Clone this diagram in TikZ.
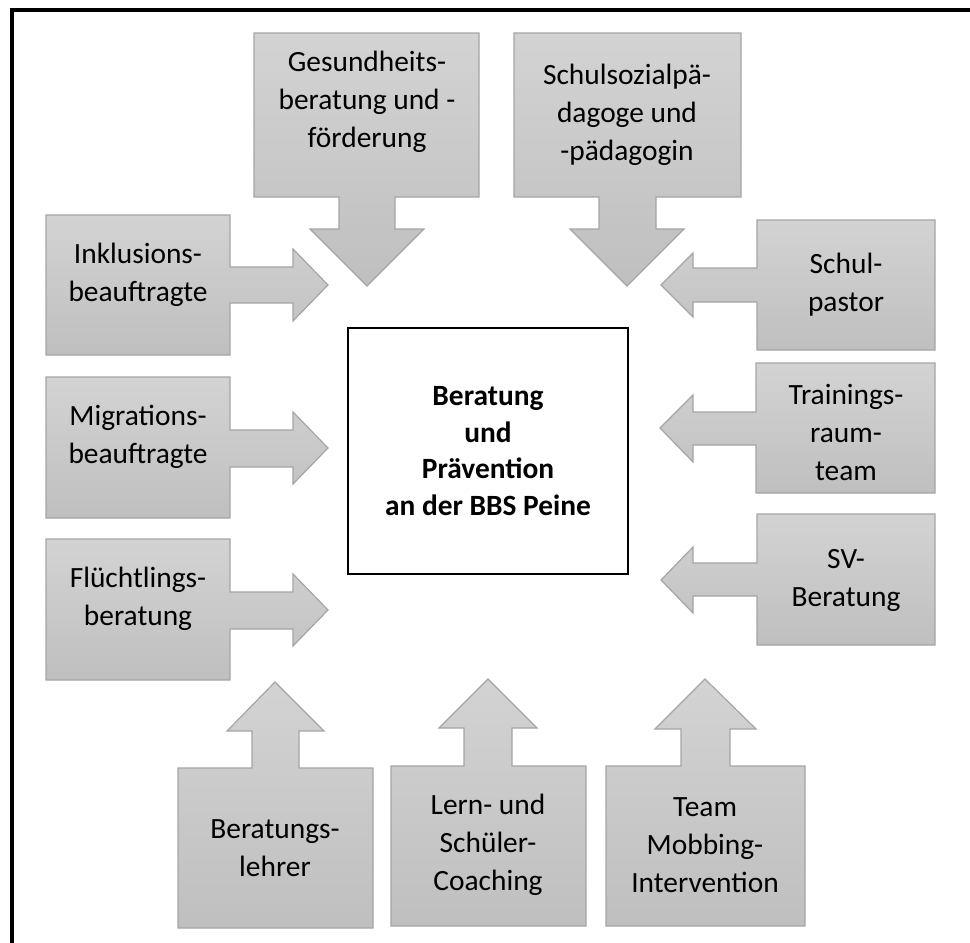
\documentclass[tikz,border=0pt]{standalone}
\usepackage{fontspec}
\setmainfont{Carlito}
\usepackage{tikz}

\definecolor{calltop}{RGB}{211,211,211}
\definecolor{callbot}{RGB}{191,191,191}
\definecolor{callline}{RGB}{165,165,165}

\begin{document}
\begin{tikzpicture}[x=0.5pt,y=-0.5pt,
        callout/.style={draw=callline,line width=0.6pt,top color=calltop,bottom color=callbot},
        lbl/.style={align=center,inner sep=0pt,font=\fontsize{14.7}{19}\selectfont},
        mitte/.style={draw,line width=0.6pt,minimum width=140pt,minimum height=123pt,
          align=center,font=\fontsize{14.7}{18.2}\selectfont\bfseries}]

  \useasboundingbox (0,0) rectangle (970,943);
  \draw[line width=1.6pt] (12,950) -- (12,10) -- (975,10);

  % oben, Pfeil nach unten
  \path[callout] (254,33) -- (479,33) -- (479,197) -- (395,197) -- (395,229) -- (424,229)
        -- (367,286) -- (310,229) -- (339,229) -- (339,197) -- (254,197) -- cycle;
  \path[callout] (514,33) -- (741,33) -- (741,197) -- (656,197) -- (656,229) -- (684,229)
        -- (627,286) -- (570,229) -- (599,229) -- (599,197) -- (514,197) -- cycle;

  % rechts, Pfeil nach links
  \path[callout] (757,220) -- (935,220) -- (935,350) -- (757,350) -- (757,302) -- (693,302)
        -- (693,317) -- (661,285) -- (693,253) -- (693,268) -- (757,268) -- cycle;
  \path[callout] (756,363) -- (935,363) -- (935,493) -- (756,493) -- (756,445) -- (693,445)
        -- (693,462) -- (660,428) -- (693,395) -- (693,412) -- (756,412) -- cycle;
  \path[callout] (757,514) -- (935,514) -- (935,645) -- (757,645) -- (757,596) -- (693,596)
        -- (693,613) -- (661,580) -- (693,547) -- (693,563) -- (757,563) -- cycle;

  % links, Pfeil nach rechts
  \path[callout] (46,215) -- (230,215) -- (230,267) -- (293,267) -- (293,249) -- (328,285)
        -- (293,321) -- (293,303) -- (230,303) -- (230,355) -- (46,355) -- cycle;
  \path[callout] (46,377) -- (230,377) -- (230,430) -- (293,430) -- (293,412) -- (328,448)
        -- (293,484) -- (293,467) -- (230,467) -- (230,518) -- (46,518) -- cycle;
  \path[callout] (46,539) -- (230,539) -- (230,592) -- (293,592) -- (293,574) -- (328,610)
        -- (293,646) -- (293,629) -- (230,629) -- (230,680) -- (46,680) -- cycle;

  % unten, Pfeil nach oben
  \path[callout] (178,768) -- (252,768) -- (252,731) -- (227,731) -- (275,682) -- (324,731)
        -- (299,731) -- (299,768) -- (373,768) -- (373,928) -- (178,928) -- cycle;
  \path[callout] (391,766) -- (464,766) -- (464,728) -- (439,728) -- (488,679) -- (537,728)
        -- (512,728) -- (512,766) -- (586,766) -- (586,926) -- (391,926) -- cycle;
  \path[callout] (606,766) -- (681,766) -- (681,729) -- (655,729) -- (705,679) -- (756,729)
        -- (730,729) -- (730,766) -- (805,766) -- (805,926) -- (606,926) -- cycle;

  \node[mitte] (zentrum) at (488,451) {Beratung\\und\\Prävention\\an der BBS Peine};

  \node[lbl] (gesund) at (367,102) {Gesundheits-\\beratung und -\\förderung};
  \node[lbl] (sozial) at (627,115) {Schulsozialpä-\\dagoge und\\-pädagogin};
  \node[lbl] (pastor) at (846,285) {Schul-\\pastor};
  \node[lbl] (training) at (846,432) {Trainings-\\raum-\\team};
  \node[lbl] (sv) at (846,580) {SV-\\Beratung};
  \node[lbl] (inklusion) at (138,275) {Inklusions-\\beauftragte};
  \node[lbl] (migration) at (138,437) {Migrations-\\beauftragte};
  \node[lbl] (fluecht) at (138,599) {Flüchtlings-\\beratung};
  \node[lbl] (blehrer) at (275,848) {Beratungs-\\lehrer};
  \node[lbl] (coaching) at (488,845) {Lern- und\\Schüler-\\Coaching};
  \node[lbl] (mobbing) at (705,845) {Team\\Mobbing-\\Intervention};

\end{tikzpicture}
\end{document}
